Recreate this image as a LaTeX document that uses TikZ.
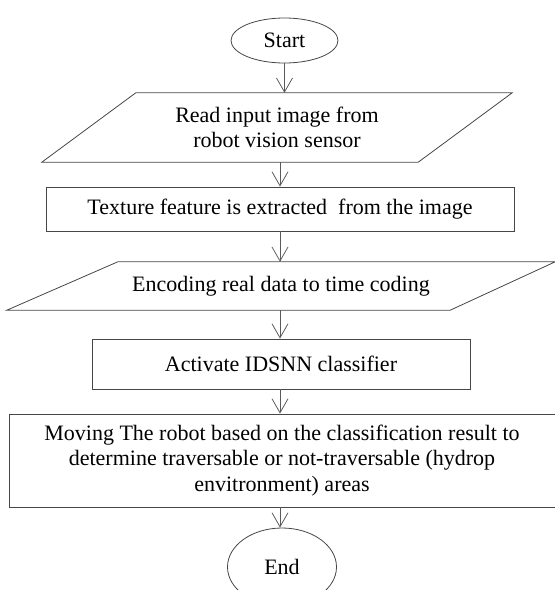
\documentclass[tikz,border=0pt]{standalone}
\usepackage{fontspec}
\setmainfont{Liberation Serif}
\usetikzlibrary{shapes.geometric,arrows.meta}
\definecolor{edge}{RGB}{70,70,70}
\definecolor{link}{RGB}{90,90,90}
\tikzset{
  txt/.style={font=\fontsize{22}{25.5}\selectfont, align=center, inner sep=0pt},
  term/.style={txt, ellipse, draw=edge, line width=0.8pt},
  procbox/.style={txt, rectangle, draw=edge, line width=0.8pt},
  iobox/.style={txt, rectangle},
  iopath/.style={draw=edge, line width=0.8pt, line join=miter},
  arr/.style={draw=link, line width=0.8pt, -{Straight Barb[length=14pt,width=16pt,line width=0.8pt]}}
}
\begin{document}
\begin{tikzpicture}[x=1pt,y=-1pt]
\useasboundingbox (0,0) rectangle (555,590);
\clip (0,0) rectangle (555,590);

% flow steps
\node[term, minimum width=107pt, minimum height=45pt] (start) at (284.5,40.5) {Start};
\node[iobox, minimum width=470pt, minimum height=69pt] (read) at (277,127.5)
  {Read input image from\\robot vision sensor};
\node[procbox, minimum width=468pt, minimum height=44pt] (texture) at (280,209)
  {Texture feature is extracted\ \ from the image};
\node[iobox, minimum width=548pt, minimum height=48pt] (encode) at (281,286)
  {Encoding real data to time coding};
\node[procbox, minimum width=378pt, minimum height=50pt] (classify) at (281,364)
  {Activate IDSNN classifier};
\node[procbox, minimum width=546pt, minimum height=93pt] (move) at (282,460.5)
  {Moving The robot based on the classification result to\\
   determine traversable or not-traversable (hydrop\\
   envitronment) areas};
\node[term, minimum width=109pt, minimum height=78pt] (finish) at (282,567) {End};

% slanted outlines of the input/output steps
\draw[iopath] (read.south west) -- ([xshift=94pt]read.north west)
  -- (read.north east) -- ([xshift=-94pt]read.south east) -- cycle;
\draw[iopath] (encode.south west) -- ([xshift=111pt]encode.north west)
  -- (encode.north east) -- ([xshift=-105pt]encode.south east) -- cycle;

% connectors
\draw[arr] (start.south) -- (start.south |- read.north);
\draw[arr] (texture.north |- read.south) -- (texture.north);
\draw[arr] (texture.south) -- (texture.south |- encode.north);
\draw[arr] (texture.south |- encode.south) -- (texture.south |- classify.north);
\draw[arr] (texture.south |- classify.south) -- (texture.south |- move.north);
\draw[arr] (texture.south |- move.south) -- (texture.south |- finish.north);
\end{tikzpicture}
\end{document}
